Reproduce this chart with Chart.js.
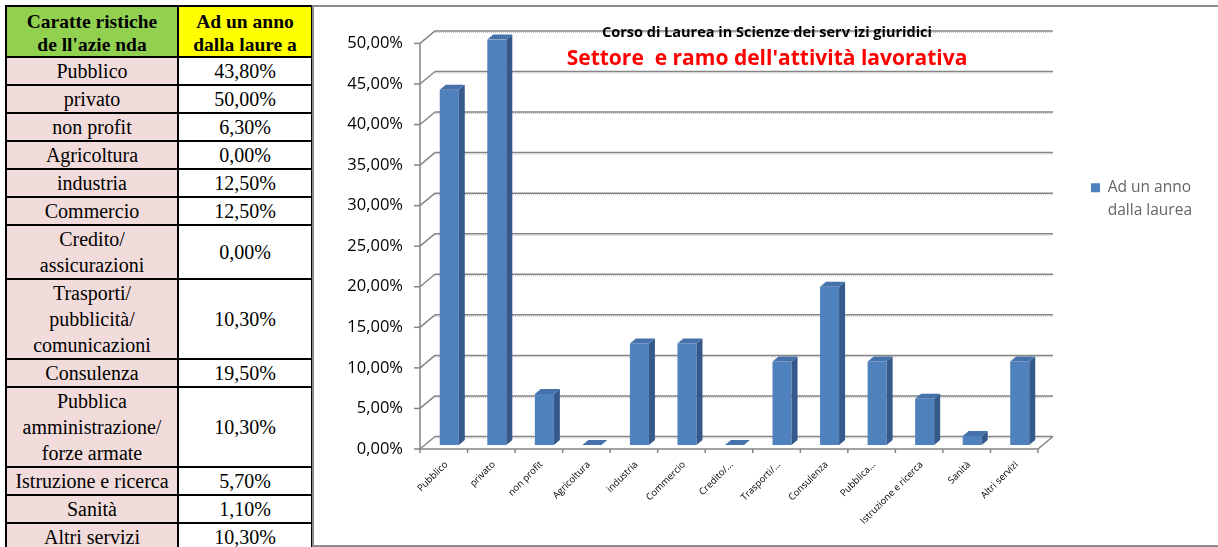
<!DOCTYPE html>
<html lang="it">
<head>
<meta charset="UTF-8">
<title>Settore e ramo dell'attività lavorativa</title>
<style>
  body {
    margin: 0;
    padding: 0;
    background: #fff;
    overflow: hidden;
    width: 1218px;
    height: 547px;
    position: relative;
  }
  #tbl {
    position: absolute;
    left: 5px;
    top: 5px;
    border-collapse: collapse;
    table-layout: fixed;
    width: 308px;
    font-family: "Liberation Serif", serif;
    font-size: 20px;
    color: #000;
  }
  #tbl th, #tbl td {
    border: 2px solid #000;
    padding: 0;
    text-align: center;
    vertical-align: middle;
    line-height: 26px;
  }
  #tbl th {
    font-size: 19.5px;
    line-height: 23px;
    padding-top: 3px;
  }
  #tbl th.h1 { background: #92d050; width: 170px; }
  #tbl th.h2 { background: #ffff00; }
  #tbl td.cat { background: #f2dcdb; }
  #tbl td.val { background: #fff; }
  #box {
    position: absolute;
    left: 312px;
    top: 5px;
    width: 910px;
    height: 538px;
    border: 2px solid #8c8c8c;
  }
</style>
</head>
<body>
<table id="tbl">
  <thead>
    <tr><th class="h1">Caratte ristiche<br>de ll'azie nda</th><th class="h2">Ad un anno<br>dalla laure a</th></tr>
  </thead>
  <tbody></tbody>
</table>
<div id="box"><canvas id="chart" width="910" height="538"></canvas></div>
<script src="https://cdn.jsdelivr.net/npm/chart.js@4/dist/chart.umd.min.js"></script>
<script>
  // data
  var categories = ['Pubblico', 'privato', 'non profit', 'Agricoltura', 'industria', 'Commercio',
    'Credito/\nassicurazioni', 'Trasporti/\npubblicità/\ncomunicazioni', 'Consulenza',
    'Pubblica\namministrazione/\nforze armate', 'Istruzione e ricerca', 'Sanità', 'Altri servizi'];
  var tickLabels = ['Pubblico', 'privato', 'non profit', 'Agricoltura', 'industria', 'Commercio',
    'Credito/...', 'Trasporti/...', 'Consulenza', 'Pubblica...', 'Istruzione e ricerca', 'Sanità', 'Altri servizi'];
  var values = [43.8, 50.0, 6.3, 0.0, 12.5, 12.5, 0.0, 10.3, 19.5, 10.3, 5.7, 1.1, 10.3];
  var yTickLabels = ['0,00%', '5,00%', '10,00%', '15,00%', '20,00%', '25,00%',
    '30,00%', '35,00%', '40,00%', '45,00%', '50,00%'];
  var seriesName = ['Ad un anno', 'dalla laurea'];
  var title1 = 'Corso di Laurea in Scienze dei serv izi giuridici';
  var title2 = "Settore  e ramo dell'attività lavorativa";

  // table on the left
  var tbody = document.querySelector('#tbl tbody');
  categories.forEach(function(c, i) {
    var tr = document.createElement('tr');
    tr.innerHTML = '<td class="cat">' + c.replace(/\n/g, '<br>') + '</td>' +
      '<td class="val">' + values[i].toFixed(2).replace('.', ',') + '%</td>';
    tbody.appendChild(tr);
  });

  // fake 3d: front plane, back wall, bar depth
  var FRONT = {dx: -5.5, dy: 4};
  var BACK = {dx: 9.5, dy: -8.5};
  var DEPTH = {dx: 6, dy: 5};
  var FONT = '"Open Sans", sans-serif';

  // legend sits right of the plot; keep plot right edge at 729.5
  var W = 910, PLOT_RIGHT = 729.5, LEG_PAD = 47.5, LEG_SIZE = 15.5, BOX = 9;
  var m = document.createElement('canvas').getContext('2d');
  m.font = LEG_SIZE + 'px ' + FONT;
  var longest = seriesName.reduce(function(a, b) { return a.length > b.length ? a : b; });
  var legWidth = LEG_PAD + BOX + LEG_SIZE / 2 + m.measureText(longest).width + 10;
  var padRight = W - PLOT_RIGHT - legWidth;

  function line(ctx, x1, y1, x2, y2) {
    ctx.beginPath();
    ctx.moveTo(x1, y1);
    ctx.lineTo(x2, y2);
    ctx.stroke();
  }

  var wall3d = {
    id: 'wall3d',
    beforeDraw: function(chart) {
      var ctx = chart.ctx, a = chart.chartArea, y = chart.scales.y;
      ctx.save();
      y.ticks.forEach(function(t) {
        var py = y.getPixelForValue(t.value);
        var yb = py + BACK.dy, yf = py + FRONT.dy;
        ctx.setLineDash([]);
        ctx.strokeStyle = '#858585';
        ctx.lineWidth = 1.5;
        line(ctx, a.left + BACK.dx, yb, a.right + BACK.dx, yb);
        line(ctx, a.left + FRONT.dx, yf, a.left + BACK.dx, yb);
        line(ctx, a.left + FRONT.dx - 6, yf, a.left + FRONT.dx, yf);
        ctx.setLineDash([1, 1]);
        ctx.strokeStyle = '#bdbdbd';
        ctx.lineWidth = 1;
        line(ctx, a.left + BACK.dx, yb + 1.5, a.right + BACK.dx, yb + 1.5);
      });
      ctx.setLineDash([]);
      ctx.strokeStyle = '#858585';
      ctx.lineWidth = 1.5;
      var y0 = a.bottom + FRONT.dy;
      line(ctx, a.left + FRONT.dx, y.getPixelForValue(50) + FRONT.dy, a.left + FRONT.dx, y0);
      line(ctx, a.left + FRONT.dx, y0, a.right + FRONT.dx, y0);
      line(ctx, a.right + FRONT.dx, y0, a.right + BACK.dx, a.bottom + BACK.dy);
      var n = categories.length, step = (a.right - a.left) / n;
      for (var i = 0; i <= n; i++) {
        var px = a.left + i * step + FRONT.dx;
        line(ctx, px, y0, px, y0 + 4);
      }
      ctx.restore();
    }
  };

  var bars3d = {
    id: 'bars3d',
    afterDatasetsDraw: function(chart) {
      var ctx = chart.ctx;
      ctx.save();
      chart.getDatasetMeta(0).data.forEach(function(bar) {
        var p = bar.getProps(['x', 'y', 'base', 'width'], true);
        var l = p.x - p.width / 2, r = p.x + p.width / 2;
        ctx.fillStyle = '#35598a';
        ctx.beginPath();
        ctx.moveTo(r, p.y);
        ctx.lineTo(r + DEPTH.dx, p.y - DEPTH.dy);
        ctx.lineTo(r + DEPTH.dx, p.base - DEPTH.dy);
        ctx.lineTo(r, p.base);
        ctx.closePath();
        ctx.fill();
        ctx.fillStyle = '#4572ab';
        ctx.beginPath();
        ctx.moveTo(l, p.y);
        ctx.lineTo(l + DEPTH.dx, p.y - DEPTH.dy);
        ctx.lineTo(r + DEPTH.dx, p.y - DEPTH.dy);
        ctx.lineTo(r, p.y);
        ctx.closePath();
        ctx.fill();
      });
      ctx.restore();
    }
  };

  var titles = {
    id: 'titles',
    afterDraw: function(chart) {
      var ctx = chart.ctx;
      ctx.save();
      ctx.textAlign = 'center';
      ctx.textBaseline = 'middle';
      ctx.fillStyle = '#000';
      ctx.font = 'bold 14.5px ' + FONT;
      ctx.fillText(title1, 453, 26);
      ctx.fillStyle = '#ff0000';
      ctx.font = 'bold 21px ' + FONT;
      ctx.fillText(title2, 453, 52);
      ctx.restore();
    }
  };

  var ctx = document.getElementById('chart').getContext('2d');
  var chart = new Chart(ctx, {
    type: 'bar',
    data: {
      labels: tickLabels,
      datasets: [{
        label: seriesName.join(' '),
        data: values,
        backgroundColor: '#4f81bd',
        borderWidth: 0,
        barPercentage: 0.4,
        categoryPercentage: 1
      }]
    },
    options: {
      responsive: false,
      animation: false,
      layout: {padding: {top: 31, right: padRight, left: 0, bottom: 0}},
      scales: {
        x: {
          grid: {display: false, drawTicks: false},
          border: {display: false},
          ticks: {
            autoSkip: false, minRotation: 45, maxRotation: 45,
            padding: 14, labelOffset: -3, color: '#000',
            font: {family: FONT, size: 9.5}
          },
          afterFit: function(s) { s.height = 100; }
        },
        y: {
          min: 0,
          max: 50,
          grid: {display: false, drawTicks: false},
          border: {display: false},
          ticks: {
            stepSize: 5, padding: 22.5, labelOffset: 4, color: '#000',
            font: {family: FONT, size: 16.5},
            callback: function(v, i) { return yTickLabels[i]; }
          },
          afterFit: function(s) { s.width = 111.5; }
        }
      },
      plugins: {
        tooltip: {enabled: false},
        legend: {
          position: 'right',
          align: 'start',
          title: {display: true, text: '', padding: {top: 80, bottom: 0}},
          labels: {
            boxWidth: BOX,
            boxHeight: BOX,
            padding: LEG_PAD,
            color: '#000',
            font: {family: FONT, size: LEG_SIZE, lineHeight: 1.45},
            generateLabels: function() {
              return [{text: seriesName, fillStyle: '#4f81bd', strokeStyle: '#4f81bd',
                lineWidth: 0, hidden: false, datasetIndex: 0}];
            }
          }
        }
      }
    },
    plugins: [wall3d, bars3d, titles]
  });
</script>
</body>
</html>
